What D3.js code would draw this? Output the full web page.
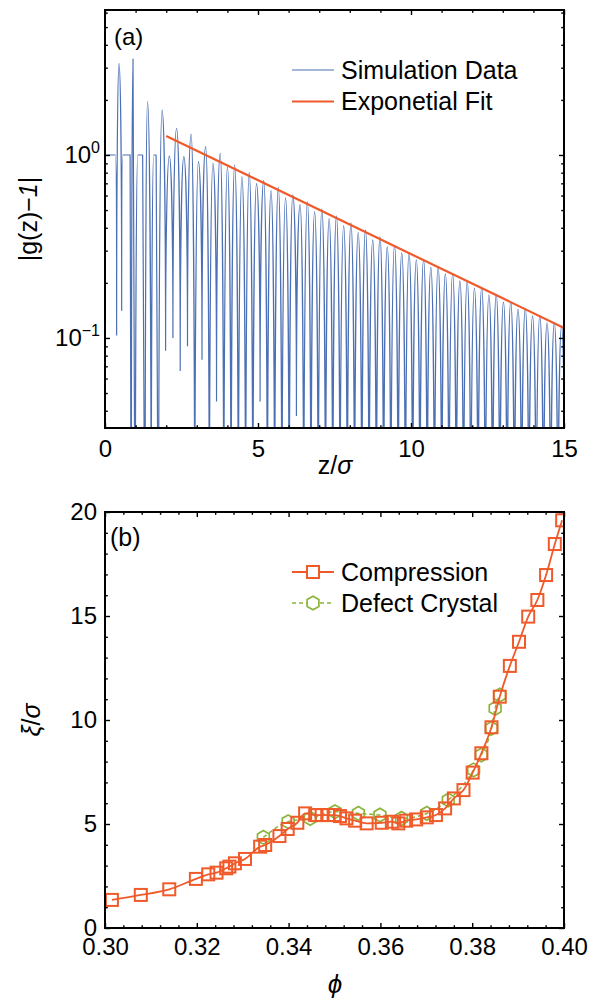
<!DOCTYPE html>
<html><head><meta charset="utf-8">
<script src="https://cdn.jsdelivr.net/npm/d3@7"></script>
<style>
body{margin:0;background:#fff}
text{font-family:"Liberation Sans",Arial,Helvetica,sans-serif;fill:#000}
</style>
</head><body>
<svg id="chart" width="598" height="1002"></svg>
<script>
// ---------------- Panel (a) data ----------------
// lobe tops (and plateau edges) of |g(z)-1|
const simPeakZ = [0, 0.34, 0.458, 0.58, 0.82, 0.915, 1.07, 1.23, 1.39, 1.59, 1.67, 1.865, 2.102, 2.339, 2.577, 2.814, 3.052, 3.289, 3.526, 3.764,
  4.001, 4.238, 4.476, 4.713, 4.950, 5.188, 5.425, 5.663, 5.900, 6.137, 6.375, 6.612, 6.850, 7.087, 7.324, 7.562, 7.799, 8.037, 8.274, 8.511,
  8.749, 8.986, 9.224, 9.461, 9.698, 9.936, 10.173, 10.411, 10.648, 10.885, 11.123, 11.360, 11.598, 11.835, 12.072, 12.310, 12.547, 12.785,
  13.022, 13.259, 13.497, 13.734, 13.972, 14.209, 14.446, 14.684, 14.921];
const simPeakV = [1, 1, 3.17, 1, 1, 3.35, 1, 1, 1.96, 1, 1, 1.76, 0.99, 1.40, 0.98, 1.30, 0.92, 1.11, 0.90, 1.02,
  0.86, 0.88, 0.762, 0.80, 0.697, 0.725, 0.638, 0.665, 0.584, 0.606, 0.535, 0.555, 0.490, 0.508, 0.449, 0.465, 0.411, 0.426, 0.376, 0.390,
  0.344, 0.357, 0.315, 0.321, 0.292, 0.293, 0.267, 0.269, 0.244, 0.246, 0.224, 0.225, 0.205, 0.206, 0.187, 0.189, 0.172, 0.173,
  0.157, 0.158, 0.144, 0.145, 0.132, 0.133, 0.121, 0.121, 0.116];
// dips between lobes (most fall below the axis)
const simDipZ = [0.38, 0.545, 0.86, 0.99, 1.31, 1.51, 1.75, 1.98, 2.22, 2.458, 2.696, 2.933, 3.17, 3.41, 3.645, 3.882, 4.120, 4.357, 4.595, 4.831,
  5.069, 5.306, 5.544, 5.781, 6.019, 6.256, 6.494, 6.731, 6.968, 7.206, 7.443, 7.681, 7.918, 8.155, 8.393, 8.630, 8.868, 9.105, 9.342, 9.580,
  9.817, 10.054, 10.292, 10.529, 10.767, 11.004, 11.241, 11.479, 11.716, 11.954, 12.191, 12.428, 12.666, 12.903, 13.141, 13.378, 13.615,
  13.853, 14.090, 14.328, 14.565, 14.802, 15.04];
const simDipV = [0.103, 0.141, 0.003, 0.003, 0.003, 0.003, 0.003, 0.085, 0.10, 0.066, 0.09, 0.003, 0.076, 0.003, 0.045, 0.003, 0.003, 0.003, 0.003, 0.003,
  0.045, 0.003, 0.003, 0.003, 0.003, 0.0375, 0.003, 0.003, 0.003, 0.003, 0.003, 0.003, 0.003, 0.003, 0.003, 0.003, 0.003, 0.003, 0.003, 0.003,
  0.003, 0.003, 0.003, 0.003, 0.003, 0.003, 0.003, 0.003, 0.003, 0.003, 0.003, 0.003, 0.003, 0.003, 0.003, 0.003, 0.003,
  0.003, 0.003, 0.003, 0.003, 0.003, 0.003];
// exponential fit (straight line on log axis)
const fitZ = [2.0, 15.0];
const fitV = [1.27, 0.1135];
const aXMajor = [0, 5, 10, 15];
const aXMinor = [1, 2, 3, 4, 6, 7, 8, 9, 11, 12, 13, 14];
const aYMajor = [0.1, 1];
const aYMajorExp = ["\u22121", "0"];
const aYMinor = [0.04, 0.05, 0.06, 0.07, 0.08, 0.09, 0.2, 0.3, 0.4, 0.5, 0.6, 0.7, 0.8, 0.9, 2, 3, 4, 5, 6];

// ---------------- Panel (b) data ----------------
const compPhi = [0.3015, 0.3078, 0.314, 0.3198, 0.3225, 0.3243, 0.3264, 0.3271, 0.3283, 0.3305, 0.3338, 0.3349, 0.338, 0.3398, 0.3419,
  0.3436, 0.3458, 0.3472, 0.3487, 0.3500, 0.3512, 0.3526, 0.3545, 0.357, 0.3603, 0.3625, 0.3639, 0.3656, 0.3678, 0.3701, 0.3721,
  0.3741, 0.376, 0.3781, 0.3801, 0.382, 0.3842, 0.386, 0.3882, 0.3902, 0.3922, 0.3942, 0.3961, 0.398, 0.3996];
const compXi = [1.35, 1.59, 1.86, 2.36, 2.58, 2.66, 2.87, 2.95, 3.11, 3.32, 3.91, 3.99, 4.42, 4.76, 5.06,
  5.51, 5.43, 5.43, 5.43, 5.43, 5.38, 5.27, 5.16, 5.03, 5.06, 5.11, 5.03, 5.16, 5.22, 5.32, 5.43,
  5.75, 6.23, 6.63, 7.47, 8.4, 9.65, 11.12, 12.6, 13.76, 14.97, 15.77, 16.97, 18.46, 19.6];
const defPhi = [0.3345, 0.3399, 0.3447, 0.3501, 0.3552, 0.3599, 0.3646, 0.3701, 0.3748, 0.3803, 0.382, 0.3842, 0.385, 0.386];
const defXi = [4.36, 5.11, 5.27, 5.59, 5.51, 5.43, 5.27, 5.51, 6.15, 7.6, 8.32, 9.6, 10.56, 11.2];
const bXMajor = [0.30, 0.32, 0.34, 0.36, 0.38, 0.40];
const bXMinor = [0.304, 0.308, 0.312, 0.316, 0.324, 0.328, 0.332, 0.336, 0.344, 0.348, 0.352, 0.356, 0.364, 0.368, 0.372, 0.376, 0.384, 0.388, 0.392, 0.396];
const bYMajor = [0, 5, 10, 15, 20];
const bYMinor = [1, 2, 3, 4, 6, 7, 8, 9, 11, 12, 13, 14, 16, 17, 18, 19];

// ---------------- styling ----------------
const FS = 24;
const BLUE = "#4c70b4", ORANGE = "#f05a2b", GREEN = "#8cb43b";
const svg = d3.select("#chart");

// custom curve: rounded (horizontal tangent) at lobe tops, vertical tangent at dips
function ArchCurve(ctx) { this._c = ctx; }
ArchCurve.prototype = {
  areaStart() {}, areaEnd() {},
  lineStart() { this._p = []; },
  point(x, y) { this._p.push([+x, +y]); },
  lineEnd() {
    const p = this._p, c = this._c, n = p.length, k = 0.5523;
    if (!n) return;
    const isDip = i => {
      const y = p[i][1];
      const a = i > 0 ? p[i - 1][1] : -Infinity, b = i < n - 1 ? p[i + 1][1] : -Infinity;
      return y > a && y > b;
    };
    c.moveTo(p[0][0], p[0][1]);
    for (let i = 0; i < n - 1; i++) {
      const A = p[i], B = p[i + 1], dA = isDip(i), dB = isDip(i + 1);
      if (dA && !dB) c.bezierCurveTo(A[0], A[1] + k * (B[1] - A[1]), B[0] - k * (B[0] - A[0]), B[1], B[0], B[1]);
      else if (!dA && dB) c.bezierCurveTo(A[0] + k * (B[0] - A[0]), A[1], B[0], B[1] + k * (A[1] - B[1]), B[0], B[1]);
      else c.lineTo(B[0], B[1]);
    }
  }
};
const archCurve = ctx => new ArchCurve(ctx);

function frame(x0, x1, y0, y1, clipId) {
  svg.append("clipPath").attr("id", clipId).append("rect")
    .attr("x", x0).attr("y", y0).attr("width", x1 - x0).attr("height", y1 - y0);
}
function styleAxis(sel) {
  sel.select(".domain").remove();
  sel.selectAll(".tick line").attr("stroke", "#000").attr("stroke-width", 1.4);
  sel.selectAll(".tick text").attr("font-size", FS).attr("font-family", "'Liberation Sans',Arial,sans-serif").attr("fill", "#000");
}
function ticks(g, scale, x0, x1, y0, y1, major, minor, fmtBottom, fmtLeft, padB, padL) {
  const mk = (gen, tr) => g.append("g").attr("transform", tr).call(gen).call(styleAxis);
  mk(d3.axisBottom(scale.x).tickValues(major.x).tickSize(-5).tickPadding(padB).tickFormat(fmtBottom), `translate(0,${y1})`);
  mk(d3.axisBottom(scale.x).tickValues(minor.x).tickSize(-2.8).tickFormat(""), `translate(0,${y1})`);
  mk(d3.axisTop(scale.x).tickValues(major.x).tickSize(-5).tickFormat(""), `translate(0,${y0})`);
  mk(d3.axisTop(scale.x).tickValues(minor.x).tickSize(-2.8).tickFormat(""), `translate(0,${y0})`);
  mk(d3.axisLeft(scale.y).tickValues(major.y).tickSize(-5).tickPadding(padL).tickFormat(fmtLeft), `translate(${x0},0)`);
  mk(d3.axisLeft(scale.y).tickValues(minor.y).tickSize(-2.8).tickFormat(""), `translate(${x0},0)`);
  mk(d3.axisRight(scale.y).tickValues(major.y).tickSize(-5).tickFormat(""), `translate(${x1},0)`);
  mk(d3.axisRight(scale.y).tickValues(minor.y).tickSize(-2.8).tickFormat(""), `translate(${x1},0)`);
  g.append("rect").attr("x", x0).attr("y", y0).attr("width", x1 - x0).attr("height", y1 - y0)
    .attr("fill", "none").attr("stroke", "#000").attr("stroke-width", 2);
}

// ================= Panel (a) =================
{
  const X0 = 105, X1 = 564, Y0 = 10, Y1 = 428;
  const x = d3.scaleLinear().domain([0, 15]).range([X0, X1]);
  const y = d3.scaleLog().domain([0.0322, 6.2]).range([Y1, Y0]);
  frame(X0, X1, Y0, Y1, "clipA");
  const g = svg.append("g");
  const plot = g.append("g").attr("clip-path", "url(#clipA)");

  const pts = simPeakZ.map((z, i) => [z, simPeakV[i]])
    .concat(simDipZ.map((z, i) => [z, simDipV[i]]))
    .sort((a, b) => a[0] - b[0]);
  const line = d3.line().x(d => x(d[0])).y(d => y(d[1])).curve(archCurve);
  plot.append("path").attr("d", line(pts)).attr("fill", "none").attr("stroke", BLUE).attr("stroke-width", 1.2);

  const fit = fitZ.map((z, i) => [z, fitV[i]]);
  plot.append("path").attr("d", d3.line().x(d => x(d[0])).y(d => y(d[1]))(fit))
    .attr("fill", "none").attr("stroke", ORANGE).attr("stroke-width", 2.2);

  ticks(g, {x, y}, X0, X1, Y0, Y1, {x: aXMajor, y: aYMajor}, {x: aXMinor, y: aYMinor}, d3.format("d"), "", 12, 8);
  aYMajor.forEach((v, i) => {
    const t = g.append("text").attr("x", 100).attr("y", y(v) + 8.5).attr("text-anchor", "end").attr("font-size", FS);
    t.append("tspan").text("10");
    t.append("tspan").attr("dy", -10).attr("font-size", 16).text(aYMajorExp[i]);
  });
  g.append("text").attr("x", 114).attr("y", 45).attr("font-size", FS).text("(a)");
  const L = [{c: BLUE, w: 1.2, t: "Simulation Data", y: 70}, {c: ORANGE, w: 2.2, t: "Exponetial Fit", y: 101.5}];
  L.forEach(d => {
    g.append("line").attr("x1", 292).attr("x2", 334).attr("y1", d.y).attr("y2", d.y).attr("stroke", d.c).attr("stroke-width", d.w);
    g.append("text").attr("x", 341).attr("y", d.y + 8.5).attr("font-size", 25).text(d.t);
  });
  const xl = g.append("text").attr("x", 335).attr("y", 474).attr("text-anchor", "middle").attr("font-size", 25);
  xl.append("tspan").text("z/");
  xl.append("tspan").attr("font-style", "italic").text("\u03C3");
  const yl = g.append("text").attr("transform", "translate(37,219) rotate(-90)").attr("text-anchor", "middle").attr("font-size", 25);
  yl.append("tspan").text("|g(z)\u2212");
  yl.append("tspan").attr("font-style", "italic").text("1");
  yl.append("tspan").text("|");
}

// ================= Panel (b) =================
{
  const X0 = 105, X1 = 564, Y0 = 512, Y1 = 928;
  const x = d3.scaleLinear().domain([0.30, 0.40]).range([X0, X1]);
  const y = d3.scaleLinear().domain([0, 20]).range([Y1, Y0]);
  frame(X0, X1, Y0, Y1, "clipB");
  const g = svg.append("g");
  const plot = g.append("g").attr("clip-path", "url(#clipB)");
  const hex = r => {
    const p = d3.range(6).map(k => { const a = -Math.PI / 2 + k * Math.PI / 3; return [r * Math.cos(a), r * Math.sin(a)]; });
    return "M" + p.map(q => q.join(",")).join("L") + "Z";
  };
  const line = d3.line().x(d => x(d[0])).y(d => y(d[1])).curve(d3.curveMonotoneX);

  const def = defPhi.map((p, i) => [p, defXi[i]]);
  plot.append("path").attr("d", line(def)).attr("fill", "none").attr("stroke", GREEN).attr("stroke-width", 1.6).attr("stroke-dasharray", "4,3");
  plot.selectAll(".hx").data(def).join("path").attr("d", hex(6.8))
    .attr("transform", d => `translate(${x(d[0])},${y(d[1])})`)
    .attr("fill", "none").attr("stroke", GREEN).attr("stroke-width", 1.7);

  const comp = compPhi.map((p, i) => [p, compXi[i]]);
  plot.append("path").attr("d", line(comp)).attr("fill", "none").attr("stroke", ORANGE).attr("stroke-width", 1.8);
  const S = 12;
  plot.selectAll(".sq").data(comp).join("rect")
    .attr("x", d => x(d[0]) - S / 2).attr("y", d => y(d[1]) - S / 2).attr("width", S).attr("height", S)
    .attr("fill", "none").attr("stroke", ORANGE).attr("stroke-width", 2);

  ticks(g, {x, y}, X0, X1, Y0, Y1, {x: bXMajor, y: bYMajor}, {x: bXMinor, y: bYMinor}, d3.format(".2f"), d3.format("d"), 10, 8);
  g.append("text").attr("x", 110).attr("y", 546).attr("font-size", 25).text("(b)");

  g.append("line").attr("x1", 292).attr("x2", 334).attr("y1", 572).attr("y2", 572).attr("stroke", ORANGE).attr("stroke-width", 1.8);
  g.append("rect").attr("x", 313 - S / 2).attr("y", 572 - S / 2).attr("width", S).attr("height", S).attr("fill", "#fff").attr("stroke", ORANGE).attr("stroke-width", 2);
  g.append("text").attr("x", 341).attr("y", 580.5).attr("font-size", 25).text("Compression");
  g.append("line").attr("x1", 292).attr("x2", 334).attr("y1", 603).attr("y2", 603).attr("stroke", GREEN).attr("stroke-width", 1.6).attr("stroke-dasharray", "4,3");
  g.append("path").attr("d", hex(6.8)).attr("transform", "translate(313,603)").attr("fill", "#fff").attr("stroke", GREEN).attr("stroke-width", 1.7);
  g.append("text").attr("x", 341).attr("y", 611.5).attr("font-size", 25).text("Defect Crystal");

  g.append("text").attr("x", 335).attr("y", 993).attr("text-anchor", "middle").attr("font-size", 26).attr("font-style", "italic").text("\u03D5");
  const yl = g.append("text").attr("transform", "translate(40,720) rotate(-90)").attr("text-anchor", "middle").attr("font-size", 25);
  yl.append("tspan").attr("font-style", "italic").text("\u03BE");
  yl.append("tspan").text("/");
  yl.append("tspan").attr("font-style", "italic").text("\u03C3");
}
</script>
</body></html>
